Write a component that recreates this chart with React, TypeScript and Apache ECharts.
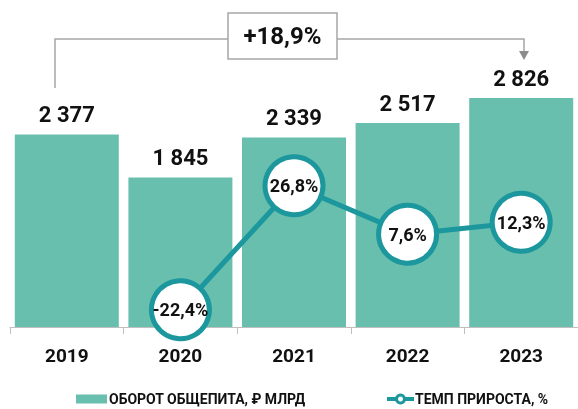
import React, { useEffect, useRef } from "react";
import * as echarts from "echarts";

const years = ["2019", "2020", "2021", "2022", "2023"];
const turnover = [2377, 1845, 2339, 2517, 2826];
const growth: (number | null)[] = [null, -22.4, 26.8, 7.6, 12.3];
const barName = "ОБОРОТ ОБЩЕПИТА, ₽ МЛРД";
const lineName = "ТЕМП ПРИРОСТА, %";
const totalGrowth = "+18,9%";

const BAR = "#68bfad";
const TEAL = "#1b979d";
const GRAY = "#a6a6a6";
const FONT = "Roboto";

function fmtThousands(v: number) {
  return String(v).replace(/\B(?=(\d{3})+(?!\d))/g, " ");
}

export default function App() {
  const ref = useRef<HTMLDivElement>(null);
  useEffect(() => {
    if (!ref.current) return;
    const chart = echarts.init(ref.current, null, { renderer: "svg" });
    chart.setOption({
      animation: false,
      textStyle: { fontFamily: FONT },
      grid: { left: 10, width: 575, top: 84, bottom: 82, containLabel: false },
      xAxis: {
        type: "category",
        data: years,
        axisLine: { lineStyle: { color: "#bfbfbf", width: 1 } },
        axisTick: { show: true, length: 7, lineStyle: { color: "#bfbfbf" } },
        axisLabel: {
          color: "#111",
          fontFamily: FONT,
          fontWeight: "bold",
          fontSize: 19,
          margin: 19,
        },
      },
      yAxis: [
        { type: "value", min: 0, max: 3000, show: false, splitLine: { show: false } },
        { type: "value", min: -29.25, max: 67.2, show: false, splitLine: { show: false } },
      ],
      legend: [
        {
          left: 76,
          top: 392,
          padding: 0,
          itemWidth: 31,
          itemHeight: 9,
          data: [{ name: barName, icon: "rect" }],
          textStyle: { fontFamily: FONT, fontWeight: "bold", fontSize: 14, color: "#111", padding: [0, 0, 0, -3] },
        },
        {
          left: 385,
          top: 392,
          padding: 0,
          itemWidth: 27,
          itemHeight: 10,
          data: [lineName],
          lineStyle: { width: 4, color: TEAL },
          itemStyle: { color: "#fff", borderColor: TEAL, borderWidth: 3 },
          textStyle: { fontFamily: FONT, fontWeight: "bold", fontSize: 14, color: "#111", padding: [0, 0, 0, -4] },
        },
      ],
      series: [
        {
          name: barName,
          type: "bar",
          data: turnover,
          barWidth: 104,
          itemStyle: { color: BAR },
          label: {
            show: true,
            position: "top",
            distance: 9,
            color: "#111",
            fontFamily: FONT,
            fontWeight: "bold",
            fontSize: 22,
            formatter: (p: any) => fmtThousands(p.value),
          },
        },
        {
          name: lineName,
          type: "line",
          yAxisIndex: 1,
          data: growth,
          symbol: "circle",
          symbolSize: 58,
          lineStyle: { color: TEAL, width: 5 },
          itemStyle: { color: "#fff", borderColor: TEAL, borderWidth: 5 },
          z: 5,
          label: {
            show: true,
            position: "inside",
            color: "#111",
            fontFamily: FONT,
            fontWeight: "bold",
            fontSize: 18,
            formatter: (p: any) => String(p.value).replace(".", ",") + "%",
          },
        },
      ],
      graphic: [
        {
          type: "polyline",
          shape: { points: [[55, 88], [55, 39], [228, 39]] },
          style: { stroke: GRAY, lineWidth: 1.5, fill: "none" },
        },
        {
          type: "polyline",
          shape: { points: [[337, 39], [524, 39], [524, 53]] },
          style: { stroke: GRAY, lineWidth: 1.5, fill: "none" },
        },
        {
          type: "polygon",
          shape: { points: [[519, 51], [529, 51], [524, 60]] },
          style: { fill: "#8c8c8c" },
        },
        {
          type: "rect",
          shape: { x: 228, y: 13, width: 109, height: 46 },
          style: { fill: "#fff", stroke: GRAY, lineWidth: 1.5 },
        },
        {
          type: "text",
          x: 282.5,
          y: 36,
          style: {
            text: totalGrowth,
            fill: "#111",
            font: `bold 24px ${FONT}`,
            align: "center",
            verticalAlign: "middle",
          },
        },
      ],
    });
    return () => chart.dispose();
  }, []);
  return (
    <div
      ref={ref}
      style={{ position: "fixed", left: 0, top: 0, width: 578, height: 409 }}
    />
  );
}
